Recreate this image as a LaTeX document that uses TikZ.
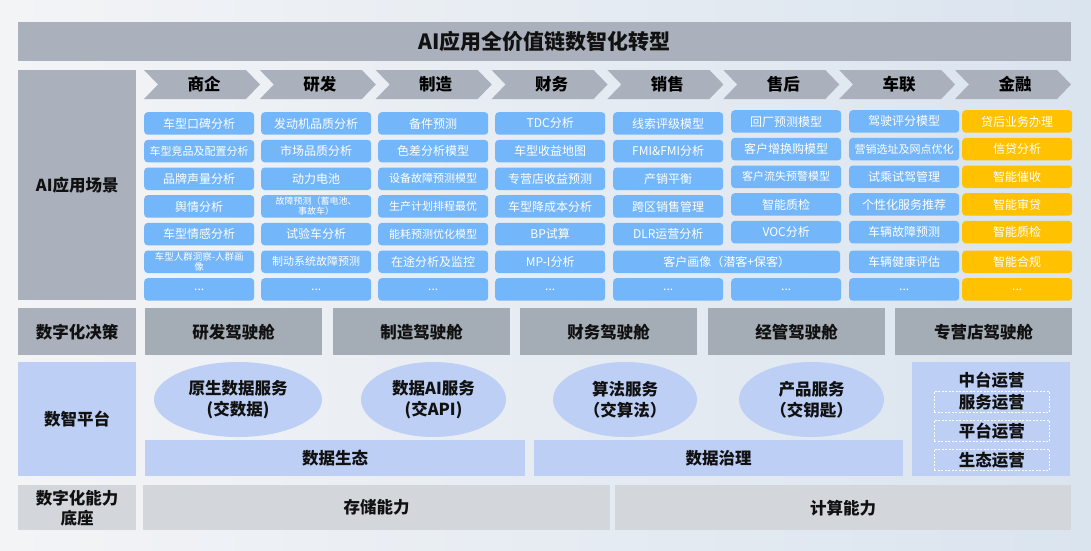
\documentclass[tikz,border=0pt]{standalone}
\usepackage{fontspec}
\setmainfont{Noto Sans CJK SC}
\usetikzlibrary{shapes.geometric}
\definecolor{bgA}{HTML}{F3F4F6}
\definecolor{bgB}{HTML}{DAE4EF}
\definecolor{barGray}{HTML}{AAB1BC}
\definecolor{cockGray}{HTML}{A4ACB6}
\definecolor{platBlue}{HTML}{BDCFF5}
\definecolor{baseGray}{HTML}{D3D7DC}
\definecolor{cellBlue}{HTML}{74B6FA}
\definecolor{cellOrange}{HTML}{FFC100}
\definecolor{ink}{HTML}{111111}
\tikzset{
  blockbox/.style={draw=none, inner sep=0pt, anchor=north west, text=ink, align=center,
    font=\fontsize{16.5}{20}\selectfont\bfseries},
  titlebar/.style={blockbox, fill=barGray, minimum width=1053pt, minimum height=39pt,
    font=\fontsize{21}{24}\selectfont\bfseries},
  labbox/.style={blockbox, fill=barGray, minimum width=118pt},
  cockbox/.style={blockbox, fill=cockGray, minimum width=177pt, minimum height=47pt},
  platbox/.style={blockbox, fill=platBlue},
  basebox/.style={blockbox, fill=baseGray, minimum height=45pt},
  cellbox/.style={draw=none, fill=cellBlue, rounded corners=3.5pt, inner sep=0pt, anchor=north west,
    minimum width=110pt, minimum height=22.5pt, text=white, align=center,
    font=\fontsize{12}{13}\selectfont},
  fincell/.style={cellbox, fill=cellOrange},
  tightfont/.style={font=\fontsize{11}{12}\selectfont},
  smallfont/.style={font=\fontsize{9}{10}\selectfont},
  chevshape/.style={fill=barGray, draw=none},
  chevtext/.style={text=black, font=\fontsize{16.5}{18}\selectfont\bfseries, inner sep=0pt},
  svcell/.style={ellipse, fill=platBlue, draw=none, inner sep=0pt, minimum height=75pt,
    text=ink, align=center, font=\fontsize{16.5}{21}\selectfont\bfseries},
  opsbox/.style={draw=white, dash pattern=on 2pt off 1.5pt, line width=0.8pt, inner sep=0pt,
    anchor=north west, minimum width=115pt, minimum height=21pt, text=ink,
    font=\fontsize{16.5}{20}\selectfont\bfseries}
}
\begin{document}
\begin{tikzpicture}[x=1pt,y=-1pt]
\useasboundingbox (0,0) rectangle (1091,550);
\shade[left color=bgA, right color=bgB] (0,0) rectangle (1091,550);

% title
\node[titlebar] (title) at (18,22) {AI应用全价值链数智化转型};

% left labels
\node[labbox, minimum height=230pt] (labAI) at (18,70) {AI应用场景};
\node[labbox, minimum height=47pt] (labDec) at (18,308) {数字化决策};
\node[labbox, fill=platBlue, minimum height=114pt] (labPlat) at (18,362) {数智平台};
\node[labbox, fill=baseGray, minimum height=45pt] (labBase) at (18,485) {数字化能力\\底座};

% chevrons
\foreach \t [count=\i from 0] in {商企,研发,制造,财务,销售,售后,车联,金融} {
  \pgfmathsetmacro\xl{144+115.86*\i}
  \fill[chevshape] (\xl,70) -- ++(102,0) -- ++(14,14.5) -- ++(-14,14.5) -- ++(-102,0) -- ++(14,-14.5) -- cycle;
  \node[chevtext] (chev\i) at (\xl+60,84.5) {\t};
}

% column 1: 商企
\node[cellbox] (a0) at (144,112) {车型口碑分析};
\node[cellbox, tightfont] (a1) at (144,139.7) {车型竞品及配置分析};
\node[cellbox] (a2) at (144,167.3) {品牌声量分析};
\node[cellbox] (a3) at (144,195) {舆情分析};
\node[cellbox] (a4) at (144,222.7) {车型情感分析};
\node[cellbox, font=\fontsize{9.5}{10}\selectfont] (a5) at (144,250.3) {车型人群洞察-人群画\\像};
\node[cellbox] (a6) at (144,278) {...};

% column 2: 研发
\node[cellbox] (b0) at (261,112) {发动机品质分析};
\node[cellbox] (b1) at (261,139.7) {市场品质分析};
\node[cellbox] (b2) at (261,167.3) {动力电池};
\node[cellbox, smallfont] (b3) at (261,195) {故障预测（蓄电池、\\事故车）};
\node[cellbox] (b4) at (261,222.7) {试验车分析};
\node[cellbox, tightfont] (b5) at (261,250.3) {制动系统故障预测};
\node[cellbox] (b6) at (261,278) {...};

% column 3: 制造
\node[cellbox] (c0) at (378,112) {备件预测};
\node[cellbox] (c1) at (378,139.7) {色差分析模型};
\node[cellbox, tightfont] (c2) at (378,167.3) {设备故障预测模型};
\node[cellbox, tightfont] (c3) at (378,195) {生产计划排程最优};
\node[cellbox, tightfont] (c4) at (378,222.7) {能耗预测优化模型};
\node[cellbox] (c5) at (378,250.3) {在途分析及监控};
\node[cellbox] (c6) at (378,278) {...};

% column 4: 财务
\node[cellbox] (d0) at (495,112) {TDC分析};
\node[cellbox] (d1) at (495,139.7) {车型收益地图};
\node[cellbox] (d2) at (495,167.3) {专营店收益预测};
\node[cellbox] (d3) at (495,195) {车型降成本分析};
\node[cellbox] (d4) at (495,222.7) {BP试算};
\node[cellbox] (d5) at (495,250.3) {MP-I分析};
\node[cellbox] (d6) at (495,278) {...};

% column 5: 销售
\node[cellbox] (e0) at (613,112) {线索评级模型};
\node[cellbox] (e1) at (613,139.7) {FMI\&FMI分析};
\node[cellbox] (e2) at (613,167.3) {产销平衡};
\node[cellbox] (e3) at (613,195) {跨区销售管理};
\node[cellbox] (e4) at (613,222.7) {DLR运营分析};
\node[cellbox, minimum width=227pt] (e5) at (613,250.3) {客户画像（潜客+保客）};
\node[cellbox] (e6) at (613,278) {...};

% column 6: 售后
\node[cellbox] (f0) at (731,110) {回厂预测模型};
\node[cellbox] (f1) at (731,137.7) {客户增换购模型};
\node[cellbox, tightfont] (f2) at (731,165.3) {客户流失预警模型};
\node[cellbox] (f3) at (731,193) {智能质检};
\node[cellbox] (f4) at (731,220.7) {VOC分析};
\node[cellbox] (f6) at (731,278) {...};

% column 7: 车联
\node[cellbox] (g0) at (849,110) {驾驶评分模型};
\node[cellbox, tightfont] (g1) at (849,137.7) {营销选址及网点优化};
\node[cellbox] (g2) at (849,165.3) {试乘试驾管理};
\node[cellbox] (g3) at (849,193) {个性化服务推荐};
\node[cellbox] (g4) at (849,220.7) {车辆故障预测};
\node[cellbox] (g5) at (849,250.3) {车辆健康评估};
\node[cellbox] (g6) at (849,278) {...};

% column 8: 金融
\node[fincell] (h0) at (962,110) {贷后业务办理};
\node[fincell] (h1) at (962,137.7) {信贷分析};
\node[fincell] (h2) at (962,165.3) {智能催收};
\node[fincell] (h3) at (962,193) {智能审贷};
\node[fincell] (h4) at (962,220.7) {智能质检};
\node[fincell] (h5) at (962,250.3) {智能合规};
\node[fincell] (h6) at (962,278) {...};

% decision cockpits
\node[cockbox] (k1) at (145,308) {研发驾驶舱};
\node[cockbox] (k2) at (333,308) {制造驾驶舱};
\node[cockbox] (k3) at (520,308) {财务驾驶舱};
\node[cockbox] (k4) at (708,308) {经管驾驶舱};
\node[cockbox] (k5) at (895,308) {专营店驾驶舱};

% platform services
\node[svcell, minimum width=168pt] (s1) at (238,399.5) {原生数据服务\\(交数据)};
\node[svcell, minimum width=145pt] (s2) at (433.5,399.5) {数据AI服务\\(交API)};
\node[svcell, minimum width=144pt] (s3) at (625,399.5) {算法服务\\（交算法）};
\node[svcell, minimum width=145pt] (s4) at (811.5,399.5) {产品服务\\（交钥匙）};
\node[platbox, minimum width=380pt, minimum height=36pt] (eco) at (145,440) {数据生态};
\node[platbox, minimum width=369pt, minimum height=36pt] (gov) at (534,440) {数据治理};

% operations
\node[platbox, minimum width=158pt, minimum height=114pt] (ops) at (912,362) {};
\node[text=ink, inner sep=0pt, font=\fontsize{16.5}{20}\selectfont\bfseries] (opsT) at (991.5,380) {中台运营};
\node[opsbox] (op1) at (934,391) {服务运营};
\node[opsbox] (op2) at (934,420) {平台运营};
\node[opsbox] (op3) at (934,449) {生态运营};

% base
\node[basebox, minimum width=467pt] (store) at (143,485) {存储能力};
\node[basebox, minimum width=456pt] (comp) at (615,485) {计算能力};
\end{tikzpicture}
\end{document}
